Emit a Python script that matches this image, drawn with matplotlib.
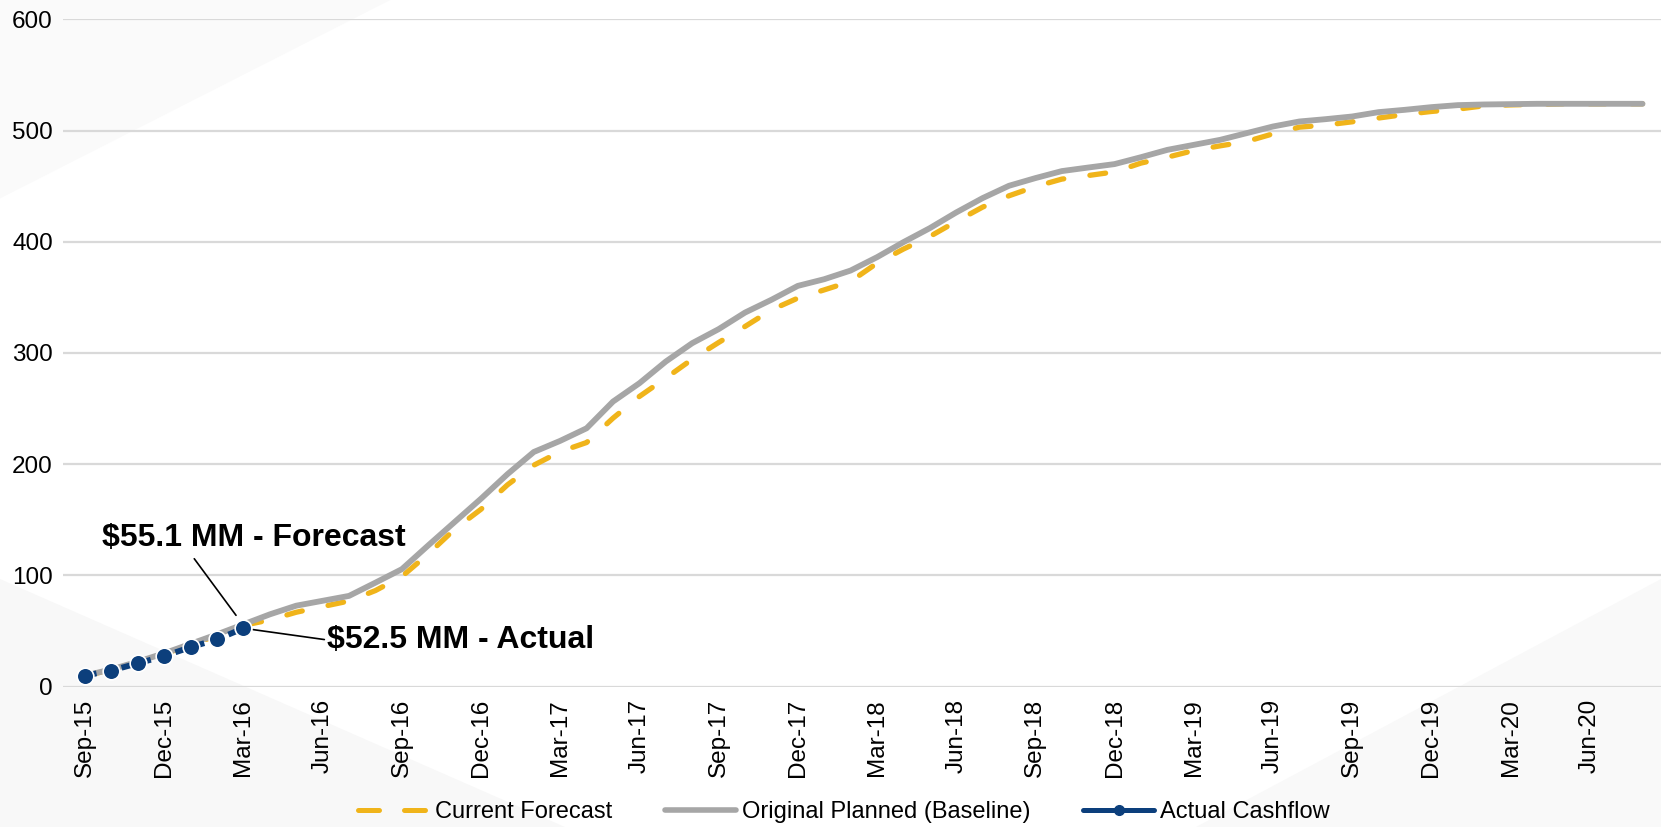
import matplotlib
matplotlib.use("Agg")
from matplotlib import pyplot as plt
from matplotlib.lines import Line2D
from matplotlib.patches import Polygon
import numpy as np

plt.rcParams['font.family'] = ['Liberation Sans', 'DejaVu Sans']

# monthly cumulative cashflow ($MM), Sep-15 .. Aug-20
baseline = [10, 15.5, 22.5, 30, 38.5, 47, 56, 65, 72.8, 77.2, 81.6, 93.5,
            105.6, 127, 148, 169, 191, 211, 221, 232.3, 256.3, 272.8, 292.3,
            308.8, 321.4, 336.3, 347.8, 360.3, 366.3, 374.1, 386.1, 399.6,
            412.2, 426.3, 439.2, 450.3, 457.2, 463.5, 466.7, 469.8, 476,
            482.6, 487.1, 491.6, 497.6, 503.6, 508.1, 510.2, 512.6, 516.5,
            518.6, 521, 522.8, 523.4, 523.7, 524, 524, 524, 524, 524]
forecast = [10, 15, 22, 29.5, 37.5, 46, 55.1, 60, 66.9, 72, 77, 86.4, 99,
            119.3, 141.5, 159.5, 181.4, 199.1, 211.3, 219.5, 241.4, 260.9,
            277.4, 294.4, 309.4, 323.8, 338.7, 349.3, 356.7, 364.3, 380.7,
            393.4, 404.7, 418.2, 431.1, 441.3, 449.6, 456.3, 459.5, 462.8,
            470.7, 476, 482, 486.2, 490.1, 497, 503, 504.9, 507.8, 511.2,
            514.4, 517.1, 519.2, 522.2, 523, 523.5, 524, 524, 524, 524]
actual = [10, 14.5, 21, 27.5, 35.5, 42.5, 52.5]

tick_labels = ['Sep-15', 'Dec-15', 'Mar-16', 'Jun-16', 'Sep-16', 'Dec-16',
               'Mar-17', 'Jun-17', 'Sep-17', 'Dec-17', 'Mar-18', 'Jun-18',
               'Sep-18', 'Dec-18', 'Mar-19', 'Jun-19', 'Sep-19', 'Dec-19',
               'Mar-20', 'Jun-20']

YELLOW = '#F0B41A'
GREY = '#A6A6A6'
BLUE = '#0C3F7C'

fig = plt.figure(figsize=(16.61, 8.27), dpi=100)

# faint background shapes
for pts, col in [
    ([(0, 1), (0.235, 1), (0, 0.76)], '#fafafa'),
    ([(0, 0.30), (0, 0), (0.34, 0)], '#f8f8f8'),
    ([(1, 0.30), (1, 0), (0.72, 0)], '#f9f9f9'),
]:
    fig.add_artist(Polygon(pts, closed=True, transform=fig.transFigure,
                           facecolor=col, edgecolor='none', zorder=-5))

ax = fig.add_axes([0.0377, 0.1697, 0.9623, 0.807])
ax.set_facecolor('none')

x = np.arange(len(baseline))
xa = np.arange(len(actual))

ax.plot(x, forecast, color=YELLOW, lw=3.8, dashes=(3.0, 5.0),
        dash_capstyle='round', zorder=3)
ax.plot(x, baseline, color=GREY, lw=4.2, solid_capstyle='round', zorder=4)
ax.plot(xa, actual, color=BLUE, lw=4.2, dashes=(2.0, 1.2), marker='o',
        ms=12, mfc=BLUE, mec='white', mew=1.2, zorder=5)

ax.set_xlim(-0.85, 59.7)
ax.set_ylim(0, 600)
ax.set_yticks(np.arange(0, 601, 100))
ax.set_xticks(np.arange(0, len(baseline), 3)[:len(tick_labels)])
ax.set_xticklabels(tick_labels, rotation=90)
ax.tick_params(axis='both', length=0, labelsize=17.5)
ax.tick_params(axis='x', pad=9)
ax.tick_params(axis='y', pad=7)
ax.yaxis.grid(True, color='#d9d9d9', lw=1.6)
ax.set_axisbelow(True)
for s in ax.spines.values():
    s.set_visible(False)

ax.annotate('\\$%.1f MM - Forecast' % forecast[6], xy=(6, forecast[6]),
            xytext=(0.63, 134), ha='left', va='center', fontsize=23,
            fontweight='bold',
            arrowprops=dict(arrowstyle='-', color='black', lw=1.2,
                            relpos=(0.29, 0), shrinkA=3, shrinkB=9))
ax.annotate('\\$%.1f MM - Actual' % actual[-1], xy=(6, actual[-1]),
            xytext=(9.17, 42), ha='left', va='center', fontsize=23,
            fontweight='bold',
            arrowprops=dict(arrowstyle='-', color='black', lw=1.2,
                            relpos=(0, 0.5), shrinkA=0, shrinkB=7))

handles = [
    Line2D([], [], color=YELLOW, lw=3.6, dashes=(4.2, 5.0),
           dash_capstyle='round'),
    Line2D([], [], color=GREY, lw=4.0, solid_capstyle='round'),
    Line2D([], [], color=BLUE, lw=3.6, marker='o', ms=7, mec=BLUE,
           solid_capstyle='round'),
]
fig.legend(handles, ['Current Forecast', 'Original Planned (Baseline)',
                     'Actual Cashflow'],
           loc='center', bbox_to_anchor=(0.508, 0.018), ncol=3,
           frameon=False, fontsize=17, handlelength=3.0,
           handletextpad=0.25, columnspacing=2.25)

fig.savefig('out.png', dpi=100)
